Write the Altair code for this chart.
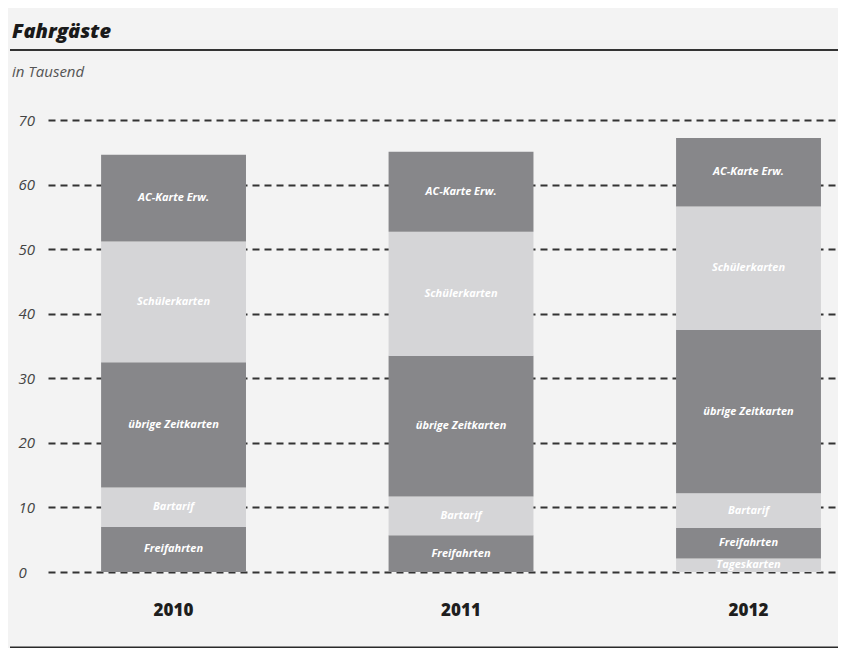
import altair as alt
import pandas as pd

years = ["2010", "2011", "2012"]
categories = ["Tageskarten", "Freifahrten", "Bartarif", "übrige Zeitkarten", "Schülerkarten", "AC-Karte Erw."]
values_2010 = [0.0, 7.0, 6.1, 19.4, 18.7, 13.4]
values_2011 = [0.0, 5.7, 6.0, 21.8, 19.2, 12.4]
values_2012 = [2.1, 4.7, 5.4, 25.3, 19.1, 10.6]
shades = ["#d5d5d7", "#87878a", "#d5d5d7", "#87878a", "#d5d5d7", "#87878a"]
y_ticks = [0, 10, 20, 30, 40, 50, 60, 70]
title_text = "Fahrgäste"
subtitle_text = "in Tausend"

rows = []
for yr, vals in zip(years, [values_2010, values_2011, values_2012]):
    for i, (cat, v) in enumerate(zip(categories, vals)):
        if v > 0:
            rows.append({"year": yr, "category": cat, "value": v, "order": i})
df = pd.DataFrame(rows)

W, H = 790, 452
FONT = "Open Sans"

base = alt.Chart(df).transform_stack(
    stack="value", as_=["y0", "y1"], groupby=["year"],
    sort=[alt.SortField("order", order="ascending")]
).transform_calculate(mid="(datum.y0 + datum.y1) / 2")

xenc = alt.X("year:N", sort=years,
             scale=alt.Scale(paddingInner=0.496, paddingOuter=0.122, align=0.757),
             axis=alt.Axis(title=None, domain=False, ticks=False, labelAngle=0,
                           labelPadding=30, labelFontSize=17, labelFontWeight=800,
                           labelColor="#1e1e1e", labelFont=FONT, grid=False))

bars = base.mark_bar().encode(
    x=xenc,
    y=alt.Y("y0:Q", scale=alt.Scale(domain=[0, 70], nice=False),
            axis=alt.Axis(title=None, values=y_ticks, domain=False, ticks=False,
                          labelAlign="left", labelPadding=30, labelFontSize=15,
                          labelFontStyle="italic", labelColor="#444444", labelFont=FONT,
                          grid=True, gridDash=[7, 5], gridColor="#333333", gridWidth=2)),
    y2="y1:Q",
    color=alt.Color("category:N", scale=alt.Scale(domain=categories, range=shades), legend=None),
)

labels = base.mark_text(color="white", fontSize=11, fontWeight="bold", fontStyle="italic",
                        font=FONT, baseline="middle").encode(
    x=alt.X("year:N", sort=years),
    y=alt.Y("mid:Q"),
    text="category:N",
)

one = pd.DataFrame({"t": [title_text], "s": [subtitle_text]})
title = alt.Chart(one).mark_text(align="left", baseline="alphabetic", fontSize=20,
                                 fontWeight=800, fontStyle="italic", font=FONT,
                                 color="#1a1a1a").encode(
    text="t:N", x=alt.value(-36), y=alt.value(-82))
subtitle = alt.Chart(one).mark_text(align="left", baseline="alphabetic", fontSize=15,
                                    fontStyle="italic", font=FONT, color="#555555").encode(
    text="s:N", x=alt.value(-36), y=alt.value(-43))
top_rule = alt.Chart(one).mark_rule(color="#333333", strokeWidth=2).encode(
    x=alt.value(-38), x2=alt.value(805), y=alt.value(-70))
bottom_rule = alt.Chart(one).mark_rule(color="#2a2a2a", strokeWidth=3).encode(
    x=alt.value(-38), x2=alt.value(805), y=alt.value(528))

chart = alt.layer(bars, labels, title, subtitle, top_rule, bottom_rule).properties(
    width=W, height=H,
    autosize=alt.AutoSizeParams(type="none"),
    padding={"left": 40, "top": 112, "right": 0, "bottom": 76},
    background="#f3f3f3",
).configure_view(stroke=None)

chart.save("out.html", embed_options={"renderer": "svg", "actions": False})
